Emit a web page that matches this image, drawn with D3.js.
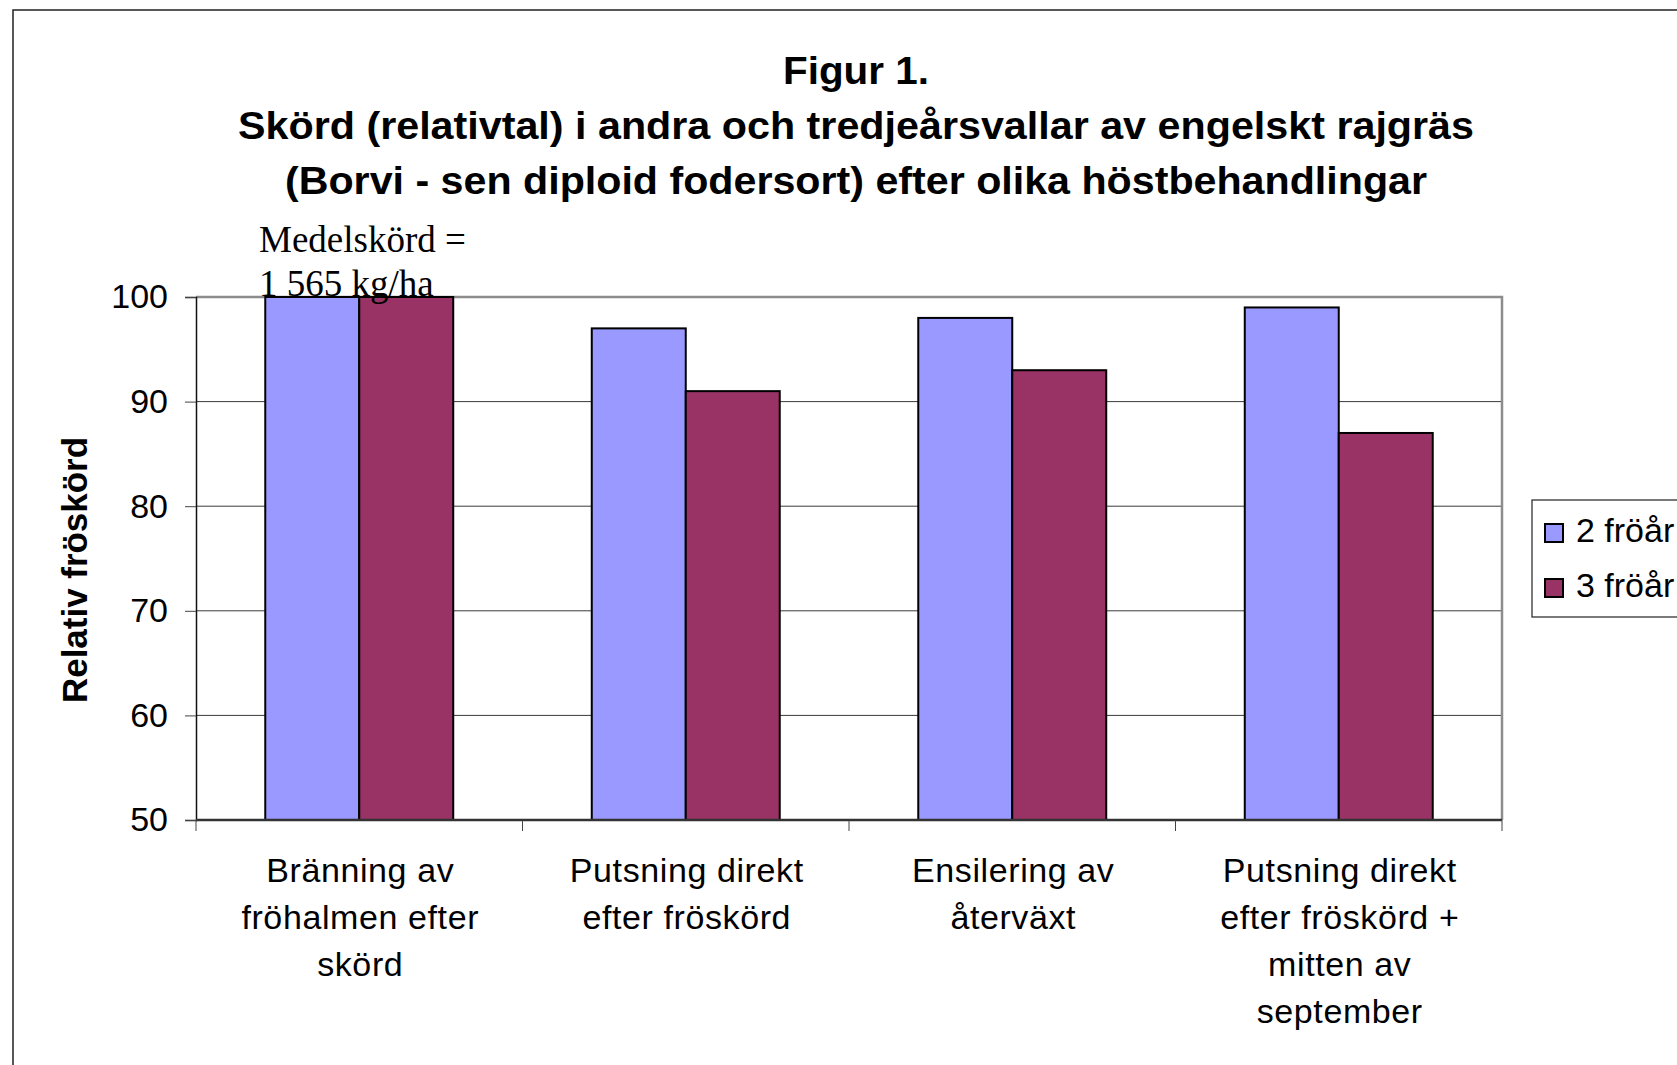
<!DOCTYPE html>
<html>
<head>
<meta charset="utf-8">
<script src="https://cdn.jsdelivr.net/npm/d3@7"></script>
<style>
  body { margin: 0; background: #fff; }
  text { font-family: "Liberation Sans", Arial, sans-serif; }
</style>
</head>
<body>
<div id="svganchor"></div>
<script>
// data
let categories = [
  ["Bränning av", "fröhalmen efter", "skörd"],
  ["Putsning direkt", "efter fröskörd"],
  ["Ensilering av", "återväxt"],
  ["Putsning direkt", "efter fröskörd +", "mitten av", "september"]
];
let seriesNames = ["2 fröår", "3 fröår"];
let twoYears = [100, 97, 98, 99];
let threeYears = [100, 91, 93, 87];
let yTicks = [50, 60, 70, 80, 90, 100];
let titleLines = [
  "Figur 1.",
  "Skörd (relativtal) i andra och tredjeårsvallar av engelskt rajgräs",
  "(Borvi - sen diploid fodersort) efter olika höstbehandlingar"
];

let width = 1677;
let height = 1065;
let plot = { left: 196, right: 1502, top: 297, bottom: 820 };
let colors = ["#9999ff", "#993366"];

let svg = d3.select("#svganchor").append("svg").attr("width", width).attr("height", height);

// chart area border
svg.append("rect")
  .attr("x", 13).attr("y", 10)
  .attr("width", width + 20).attr("height", height + 20)
  .attr("fill", "none").attr("stroke", "#222").attr("stroke-width", 1.5);

// titles
let titleWidths = [146, 1236, 1142];
svg.selectAll(".title")
  .data(titleLines)
  .enter()
  .append("text")
  .attr("class", "title")
  .attr("x", 856)
  .attr("y", function (d, i) { return 84 + i * 55; })
  .attr("text-anchor", "middle")
  .attr("font-size", 39)
  .attr("font-weight", "bold")
  .attr("textLength", function (d, i) { return titleWidths[i]; })
  .attr("lengthAdjust", "spacingAndGlyphs")
  .text(function (d) { return d; });

let keys = categories.map(function (d, i) { return i; });

let x0 = d3.scaleBand().domain(keys).range([plot.left, plot.right]).padding(0);
let x1 = d3.scaleBand().domain([0, 1]).range([0, x0.bandwidth()]).paddingInner(0).paddingOuter(0.737);
let y = d3.scaleLinear().domain([50, 100]).range([plot.bottom, plot.top]);

// gridlines
svg.selectAll(".grid")
  .data(yTicks.filter(function (d) { return d > 50 && d < 100; }))
  .enter()
  .append("line")
  .attr("class", "grid")
  .attr("x1", plot.left).attr("x2", plot.right)
  .attr("y1", function (d) { return y(d); })
  .attr("y2", function (d) { return y(d); })
  .attr("stroke", "#3a3a3a").attr("stroke-width", 1);

// plot area top/right border (grey)
svg.append("path")
  .attr("d", "M" + plot.left + "," + y(100) + "H" + plot.right + "V" + y(50))
  .attr("fill", "none").attr("stroke", "#8c8c8c").attr("stroke-width", 2.5);

// bars
let rows = keys.map(function (k) { return [twoYears[k], threeYears[k]]; });
let groups = svg.selectAll(".group")
  .data(rows)
  .enter()
  .append("g")
  .attr("class", "group")
  .attr("transform", function (d, i) { return "translate(" + x0(i) + ",0)"; });

groups.selectAll("rect")
  .data(function (d) { return d; })
  .enter()
  .append("rect")
  .attr("x", function (d, j) { return x1(j); })
  .attr("y", function (d) { return y(d); })
  .attr("width", x1.bandwidth())
  .attr("height", function (d) { return y(50) - y(d); })
  .attr("fill", function (d, j) { return colors[j]; })
  .attr("stroke", "#000")
  .attr("stroke-width", 2);

// y axis
let yAxis = d3.axisLeft(y).tickValues(yTicks).tickSize(11).tickPadding(17);
let yg = svg.append("g").attr("transform", "translate(" + plot.left + ",0)").call(yAxis);
yg.select(".domain").attr("stroke", "#111").attr("stroke-width", 1.5);
yg.selectAll(".tick line").attr("stroke", "#444");
yg.selectAll(".tick text")
  .attr("font-size", 34)
  .attr("font-family", "'Liberation Sans', Arial, sans-serif")
  .attr("fill", "#000");

// x axis baseline and category boundary ticks
svg.append("line")
  .attr("x1", plot.left).attr("x2", plot.right)
  .attr("y1", y(50)).attr("y2", y(50))
  .attr("stroke", "#333").attr("stroke-width", 2.5);

let boundaries = keys.map(function (k) { return x0(k); }).concat([plot.right]);
svg.selectAll(".xtick")
  .data(boundaries)
  .enter()
  .append("line")
  .attr("class", "xtick")
  .attr("x1", function (d) { return d; })
  .attr("x2", function (d) { return d; })
  .attr("y1", y(50)).attr("y2", y(50) + 11)
  .attr("stroke", "#444").attr("stroke-width", 1);

// category labels
let labels = svg.selectAll(".xlabel")
  .data(categories)
  .enter()
  .append("text")
  .attr("class", "xlabel")
  .attr("text-anchor", "middle")
  .attr("font-size", 34)
  .attr("letter-spacing", 0.6);

labels.selectAll("tspan")
  .data(function (d, i) { return d.map(function (line) { return { line: line, i: i }; }); })
  .enter()
  .append("tspan")
  .attr("x", function (d) { return x0(d.i) + x0.bandwidth() / 2 + 1; })
  .attr("y", function (d, j) { return 882 + j * 47; })
  .text(function (d) { return d.line; });

// y axis title
svg.append("text")
  .attr("transform", "translate(87,570) rotate(-90)")
  .attr("text-anchor", "middle")
  .attr("font-size", 35)
  .attr("font-weight", "bold")
  .attr("textLength", 266)
  .attr("lengthAdjust", "spacingAndGlyphs")
  .text("Relativ fröskörd");

// annotation
svg.append("text")
  .attr("x", 259).attr("y", 252)
  .attr("font-size", 37)
  .style("font-family", "'Liberation Serif', 'Times New Roman', serif")
  .text("Medelskörd =");
svg.append("text")
  .attr("x", 259).attr("y", 296)
  .attr("font-size", 37)
  .style("font-family", "'Liberation Serif', 'Times New Roman', serif")
  .text("1 565 kg/ha");

// legend
let legend = svg.append("g").attr("transform", "translate(1532,500)");
legend.append("rect")
  .attr("width", 200).attr("height", 117)
  .attr("fill", "#fff").attr("stroke", "#222").attr("stroke-width", 1.2);

let items = legend.selectAll(".item")
  .data(seriesNames)
  .enter()
  .append("g")
  .attr("class", "item")
  .attr("transform", function (d, i) { return "translate(13," + (24 + i * 55) + ")"; });

items.append("rect")
  .attr("width", 18).attr("height", 18)
  .attr("fill", function (d, i) { return colors[i]; })
  .attr("stroke", "#000").attr("stroke-width", 2);

items.append("text")
  .attr("x", 31).attr("y", 18)
  .attr("font-size", 34)
  .text(function (d) { return d; });
</script>
</body>
</html>
